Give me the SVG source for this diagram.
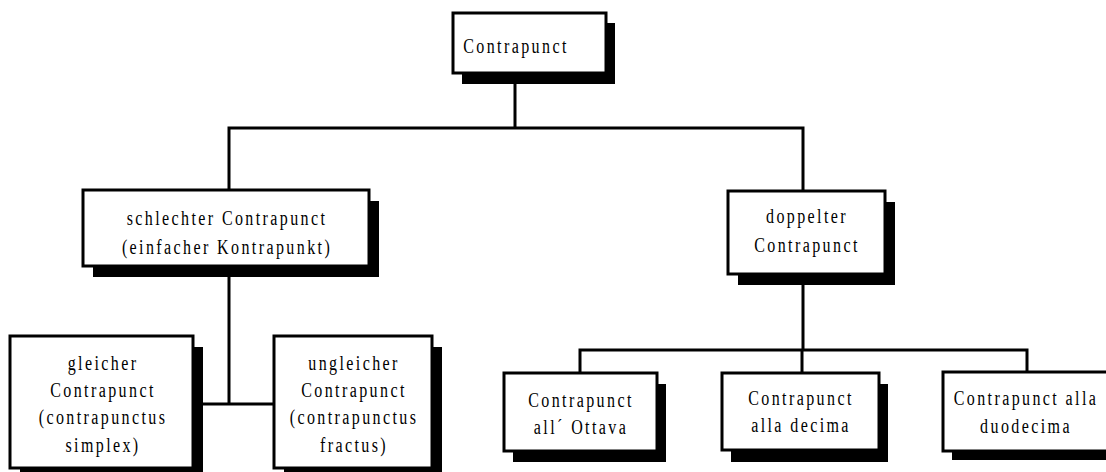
<svg xmlns="http://www.w3.org/2000/svg" width="1106" height="472" viewBox="0 0 1106 472">
<style>
.bg{fill:#fff}
.sh{fill:#000}
.box{fill:#fff;stroke:#000;stroke-width:3}
.ln{stroke:#000;stroke-width:3;fill:none;stroke-linecap:square}
text{font-family:"Liberation Serif","Times New Roman",serif;font-size:20px;letter-spacing:3px;fill:#000;text-anchor:middle}
</style>
<rect class="bg" x="0" y="0" width="1106" height="472"/>
<g id="connectors">
<path class="ln" d="M515,84 V128 M229,128 H803 M229,128 V190 M803,128 V191 M229,277 V404 M203,404 H274 M803,285 V350 M580,350 H1027 M580,350 V373 M802,350 V373 M1027,350 V372"/>
</g>
<g id="n-contrapunct">
<rect class="sh" x="462" y="23" width="153" height="61"/>
<rect class="box" x="453" y="13" width="153" height="60"/>
<text transform="matrix(0.8 0 0 1 516 0)" x="0" y="53">Contrapunct</text>
</g>
<g id="n-schlechter">
<rect class="sh" x="93" y="201" width="286" height="76"/>
<rect class="box" x="83" y="190" width="286" height="76"/>
<text transform="matrix(0.8 0 0 1 227 0)" x="0" y="225">schlechter Contrapunct</text>
<text transform="matrix(0.8 0 0 1 227 0)" x="0" y="254">(einfacher Kontrapunkt)</text>
</g>
<g id="n-doppelter">
<rect class="sh" x="738" y="202" width="157" height="83"/>
<rect class="box" x="728" y="191" width="157" height="83"/>
<text transform="matrix(0.8 0 0 1 807 0)" x="0" y="223">doppelter</text>
<text transform="matrix(0.8 0 0 1 807 0)" x="0" y="252">Contrapunct</text>
</g>
<g id="n-gleicher">
<rect class="sh" x="20" y="347" width="183" height="132"/>
<rect class="box" x="10" y="336" width="183" height="132"/>
<text transform="matrix(0.8 0 0 1 103 0)" x="0" y="370">gleicher</text>
<text transform="matrix(0.8 0 0 1 103 0)" x="0" y="397">Contrapunct</text>
<text transform="matrix(0.8 0 0 1 103 0)" x="0" y="424">(contrapunctus</text>
<text transform="matrix(0.8 0 0 1 103 0)" x="0" y="452">simplex)</text>
</g>
<g id="n-ungleicher">
<rect class="sh" x="284" y="347" width="158" height="132"/>
<rect class="box" x="274" y="336" width="158" height="132"/>
<text transform="matrix(0.8 0 0 1 354 0)" x="0" y="370">ungleicher</text>
<text transform="matrix(0.8 0 0 1 354 0)" x="0" y="397">Contrapunct</text>
<text transform="matrix(0.8 0 0 1 354 0)" x="0" y="424">(contrapunctus</text>
<text transform="matrix(0.8 0 0 1 354 0)" x="0" y="452">fractus)</text>
</g>
<g id="n-ottava">
<rect class="sh" x="513" y="384" width="153" height="78"/>
<rect class="box" x="504" y="373" width="153" height="78"/>
<text transform="matrix(0.8 0 0 1 581 0)" x="0" y="407">Contrapunct</text>
<text transform="matrix(0.8 0 0 1 581 0)" x="0" y="434">all´ Ottava</text>
</g>
<g id="n-decima">
<rect class="sh" x="731" y="384" width="157" height="78"/>
<rect class="box" x="722" y="373" width="157" height="77"/>
<text transform="matrix(0.8 0 0 1 801 0)" x="0" y="405">Contrapunct</text>
<text transform="matrix(0.8 0 0 1 801 0)" x="0" y="432">alla decima</text>
</g>
<g id="n-duodecima">
<rect class="sh" x="952" y="382" width="170" height="78"/>
<rect class="box" x="943" y="372" width="170" height="79"/>
<text transform="matrix(0.8 0 0 1 1026 0)" x="0" y="405">Contrapunct alla</text>
<text transform="matrix(0.8 0 0 1 1026 0)" x="0" y="433">duodecima</text>
</g>
</svg>
